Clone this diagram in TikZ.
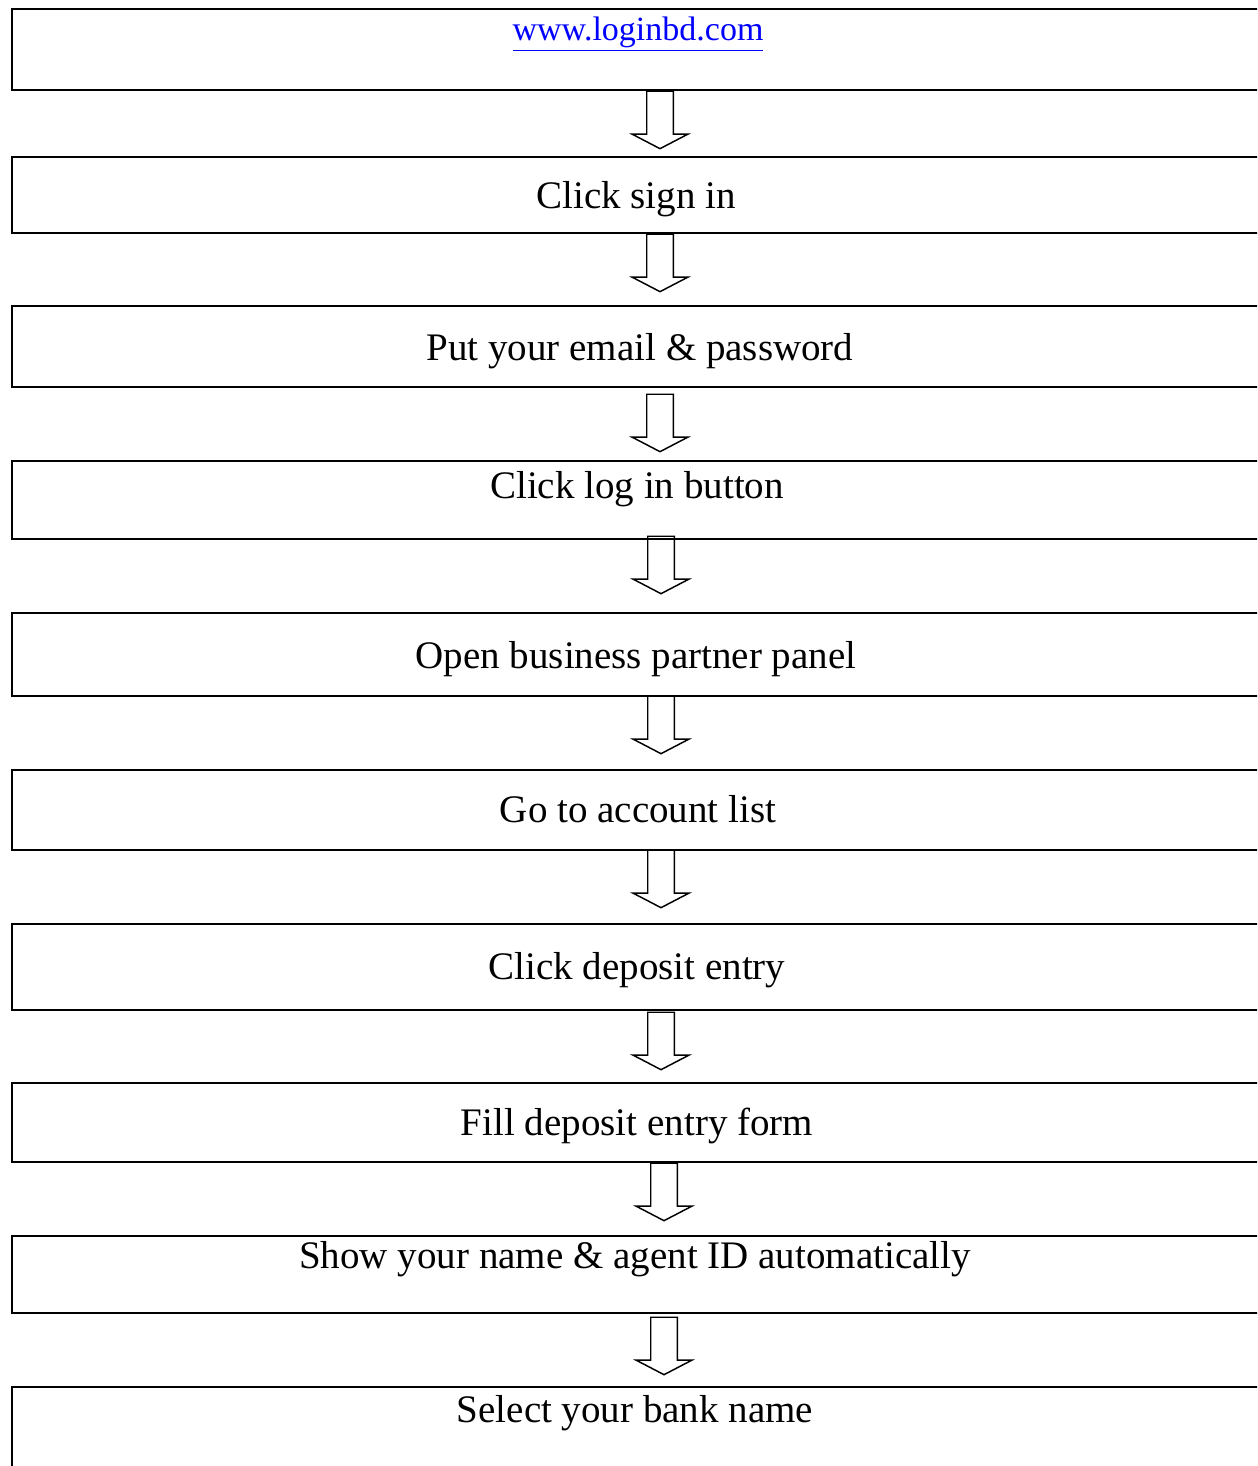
\documentclass[tikz,border=0pt]{standalone}
\usepackage{fontspec}
\setmainfont{Liberation Serif}
\usetikzlibrary{shapes.arrows}
\tikzset{stepbox/.style={rectangle,draw=black,line width=1pt,minimum width=966pt,inner sep=0pt}}
\tikzset{steptext/.style={anchor=base,inner sep=0pt,font=\fontsize{29.25}{35}\selectfont}}
\tikzset{flowarrow/.style={single arrow,draw=black,line width=1.1pt,rotate=-90,single arrow head extend=10.9pt,single arrow tip angle=125,inner xsep=18.4pt,inner ysep=9.4pt}}

\begin{document}
\begin{tikzpicture}[x=0.75pt,y=-0.75pt]
\useasboundingbox (0,0) rectangle (1257,1466);
\clip (0,0) rectangle (1257,1466);
%boxes
\node[stepbox,minimum height=60.75pt] (b1) at (656,49.5) {};
\node[stepbox,minimum height=57pt] (b2) at (656,195) {};
\node[stepbox,minimum height=60.75pt] (b3) at (656,346.5) {};
\node[stepbox,minimum height=58.5pt] (b4) at (656,500) {};
\node[stepbox,minimum height=62.25pt] (b5) at (656,654.5) {};
\node[stepbox,minimum height=60pt] (b6) at (656,810) {};
\node[stepbox,minimum height=64.5pt] (b7) at (656,967) {};
\node[stepbox,minimum height=59.25pt] (b8) at (656,1122.5) {};
\node[stepbox,minimum height=57.75pt] (b9) at (656,1274.5) {};
\node[stepbox,minimum height=84.75pt] (b10) at (656,1443.5) {};
%texts
\node[steptext,font=\fontsize{25.5}{30}\selectfont,text=blue] (t1) at (638,41) {\underline{www.loginbd.com}};
\node[steptext] (t2) at (636,208) {Click sign in};
\node[steptext] (t3) at (640,360) {Put your email \& password};
\node[steptext] (t4) at (637,498) {Click log in button};
\node[steptext] (t5) at (636,668) {Open business partner panel};
\node[steptext] (t6) at (638,822) {Go to account list};
\node[steptext] (t7) at (637,979) {Click deposit entry};
\node[steptext] (t8) at (637,1135) {Fill deposit entry form};
\node[steptext] (t9) at (635,1268) {Show your name \& agent ID automatically};
\node[steptext] (t10) at (635,1422) {Select your bank name};
%arrows
\node[flowarrow] (a1) at (660,116.5) {};
\node[flowarrow] (a2) at (660,259.5) {};
\node[flowarrow] (a3) at (660,419.5) {};
\node[flowarrow] (a4) at (661,561.5) {};
\node[flowarrow] (a5) at (661,721.5) {};
\node[flowarrow] (a6) at (661,875.5) {};
\node[flowarrow] (a7) at (661,1037.5) {};
\node[flowarrow] (a8) at (664,1188.5) {};
\node[flowarrow] (a9) at (664,1342.5) {};
\end{tikzpicture}
\end{document}
